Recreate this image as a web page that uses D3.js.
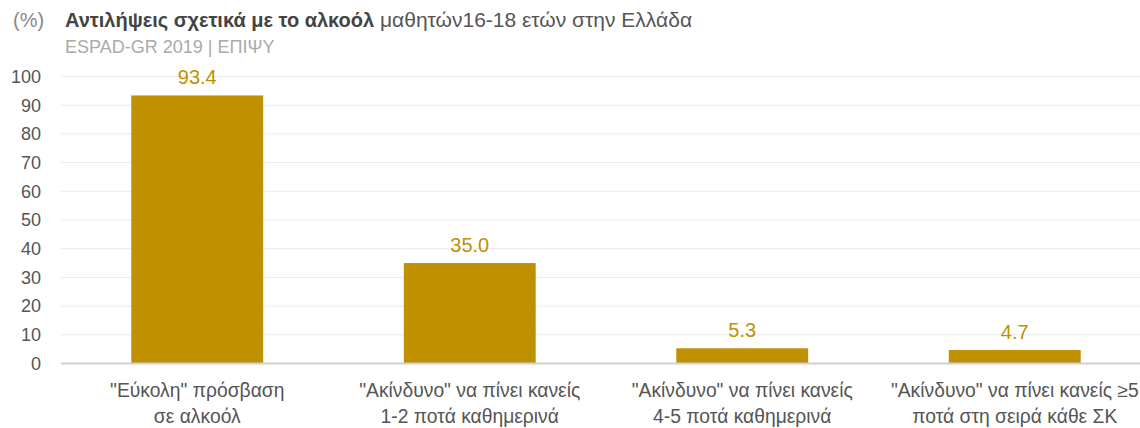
<!DOCTYPE html>
<html>
<head>
<meta charset="utf-8">
<script src="https://cdn.jsdelivr.net/npm/d3@7"></script>
<style>
  body { margin: 0; background: #fff; }
  svg { display: block; font-family: "Liberation Sans", Arial, sans-serif; }
</style>
</head>
<body>
<div id="chart"></div>
<script>
// chart data
const categories = [
    ['"Εύκολη" πρόσβαση', 'σε αλκοόλ'],
    ['"Ακίνδυνο" να πίνει κανείς', '1-2 ποτά καθημερινά'],
    ['"Ακίνδυνο" να πίνει κανείς', '4-5 ποτά καθημερινά'],
    ['"Ακίνδυνο" να πίνει κανείς ≥5', 'ποτά στη σειρά κάθε ΣΚ']
];
const values = [93.4, 35.0, 5.3, 4.7];
const yTicks = [0, 10, 20, 30, 40, 50, 60, 70, 80, 90, 100];

const width = 1140;
const height = 428;
const barColor = '#bf9000';

const svg = d3.select('#chart')
    .append('svg')
    .attr('width', width)
    .attr('height', height);

// title
const title = svg.append('text')
    .attr('x', 13)
    .attr('y', 27)
    .style('font-size', '20px');
title.append('tspan').attr('fill', '#888').text('(%)');
title.append('tspan').attr('x', 65).attr('fill', '#444').style('font-weight', 'bold').text('Αντιλήψεις σχετικά με το αλκοόλ');
title.append('tspan').attr('fill', '#555').style('font-size', '21px').text(' μαθητών16-18 ετών στην Ελλάδα');

svg.append('text')
    .attr('x', 65)
    .attr('y', 53)
    .attr('fill', '#aaa')
    .style('font-size', '18px')
    .text('ESPAD-GR 2019 | ΕΠΙΨΥ');

const left = 61;
const y = d3.scaleLinear()
    .domain([0, 100])
    .range([363.5, 76.5]);

const x = d3.scaleBand()
    .domain(d3.range(categories.length))
    .range([left, 1151])
    .paddingInner(0.516)
    .paddingOuter(0.258);

// grid lines
svg.append('g')
    .selectAll('line')
    .data(yTicks.filter(t => t > 0))
    .join('line')
    .attr('x1', left)
    .attr('x2', width)
    .attr('y1', d => y(d))
    .attr('y2', d => y(d))
    .attr('stroke', '#ebebeb')
    .attr('stroke-width', 1);

// y labels
svg.append('g')
    .selectAll('text')
    .data(yTicks)
    .join('text')
    .attr('x', 41)
    .attr('y', d => y(d))
    .attr('dy', '0.35em')
    .attr('text-anchor', 'end')
    .attr('fill', '#555')
    .style('font-size', '18px')
    .text(d => d);

// bars
svg.append('g')
    .selectAll('rect')
    .data(values)
    .join('rect')
    .attr('x', (d, i) => x(i))
    .attr('y', d => y(d))
    .attr('width', x.bandwidth())
    .attr('height', d => y(0) - y(d))
    .attr('fill', barColor);

// baseline
svg.append('line')
    .attr('x1', left)
    .attr('x2', width)
    .attr('y1', y(0))
    .attr('y2', y(0))
    .attr('stroke', '#d0d0d0')
    .attr('stroke-width', 2);

// value labels
svg.append('g')
    .selectAll('text')
    .data(values)
    .join('text')
    .attr('x', (d, i) => x(i) + x.bandwidth() / 2)
    .attr('y', d => y(d) - 11)
    .attr('text-anchor', 'middle')
    .attr('fill', barColor)
    .style('font-size', '20px')
    .text(d => d.toFixed(1));

// category labels
const catLabels = svg.append('g')
    .selectAll('text')
    .data(categories)
    .join('text')
    .attr('x', (d, i) => x(i) + x.bandwidth() / 2)
    .attr('y', 397)
    .attr('text-anchor', 'middle')
    .attr('fill', '#555')
    .style('font-size', '19.3px');

catLabels.selectAll('tspan')
    .data(d => d)
    .join('tspan')
    .attr('x', function () { return d3.select(this.parentNode).attr('x'); })
    .attr('dy', (d, i) => i === 0 ? 0 : 26)
    .text(d => d);
</script>
</body>
</html>
